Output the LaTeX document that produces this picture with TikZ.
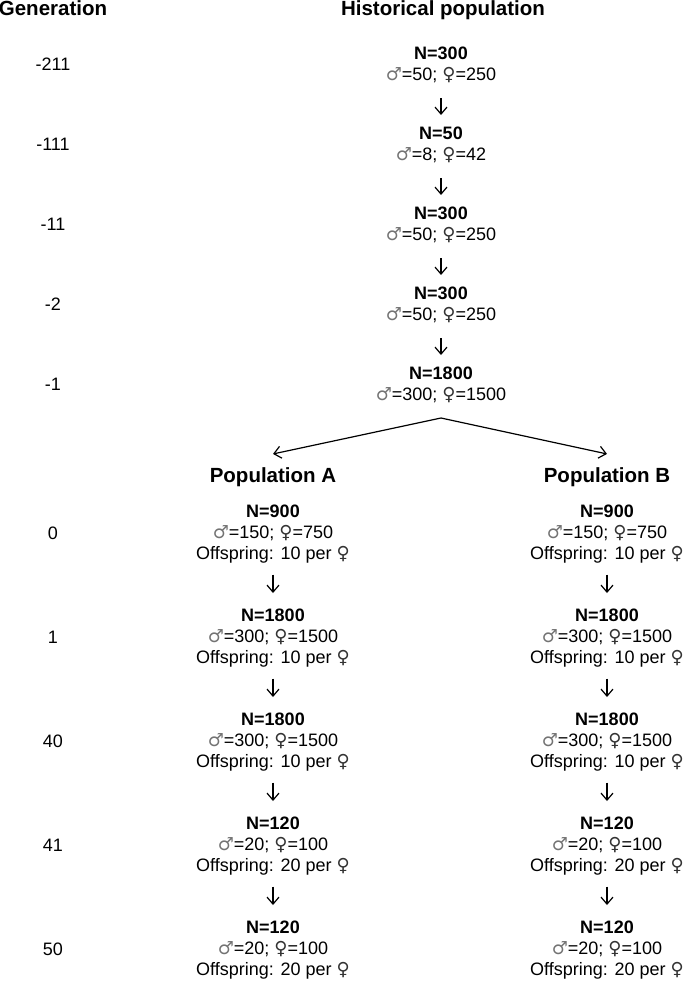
\documentclass[tikz,border=0pt]{standalone}
\usepackage{fontspec}
\setmainfont{Liberation Sans}
\newfontfamily\gpsymfont{DejaVu Sans}
\usetikzlibrary{arrows.meta}
\usetikzlibrary{calc}
\newcommand{\gpmale}{{\gpsymfont\color{black!55}\char"2642}}
\newcommand{\gpfemale}{{\gpsymfont\color{black!80}\char"2640}}
\tikzset{
  gpnode/.style={
    align=center, inner sep=0pt, anchor=north,
    font=\fontsize{18}{21}\selectfont},
  gphead/.style={
    anchor=base, inner sep=0pt, font=\fontsize{20.5}{24}\selectfont\bfseries},
  gpgen/.style={inner sep=0pt, font=\fontsize{18}{21}\selectfont},
  gparrow/.style={-{Straight Barb[length=7pt, width=12pt]}, line width=1.2pt},
  gpstep/.style={gparrow, shorten <=15pt, shorten >=12pt},
}

\begin{document}
\begin{tikzpicture}[x=1pt, y=-1pt]
\useasboundingbox (0, 0) rectangle (685, 983);

% Headers.
\node[gphead] (genhead) at (53, 15) {Generation};
\node[gphead] (histhead) at (443, 15) {Historical population};
\node[gphead] (popAhead) at (273, 482) {Population A};
\node[gphead] (popBhead) at (607, 482) {Population B};

% Generation column.
\foreach \g/\y [count=\k] in {%
    -211/64, -111/144, -11/224, -2/304, -1/384,
    0/533, 1/637, 40/741, 41/845, 50/949} {
  \node[gpgen] (gen\k) at (53, \y) {\g};
}

% Historical population, one node per generation.
\foreach \i/\y/\n/\m/\f in {%
    0/47/300/50/250,
    1/127/50/8/42,
    2/207/300/50/250,
    3/287/300/50/250,
    4/367/1800/300/1500} {
  \node[gpnode] (hist\i) at (441, \y)
    {\textbf{N=\n}\\\gpmale=\m; \gpfemale=\f};
}
\foreach \i in {0, 1, 2, 3} {
  \pgfmathtruncatemacro{\next}{\i + 1}
  \draw[gpstep] (hist\i) -- (hist\next);
}

% Split into the two populations.
\coordinate (split) at (441, 418);
\draw[gparrow] (split) -- ([yshift=13pt]popAhead.north);
\draw[gparrow] (split) -- ([yshift=13pt]popBhead.north);

% Populations A and B.
\foreach \p/\x in {A/273, B/607} {
  \foreach \i/\y/\n/\m/\f/\o in {%
      0/505/900/150/750/10,
      1/609/1800/300/1500/10,
      2/713/1800/300/1500/10,
      3/817/120/20/100/20,
      4/921/120/20/100/20} {
    \node[gpnode] (pop\p\i) at (\x, \y)
      {\textbf{N=\n}\\\gpmale=\m; \gpfemale=\f\\Offspring: \o{} per \gpfemale};
  }
  \foreach \i in {0, 1, 2, 3} {
    \pgfmathtruncatemacro{\next}{\i + 1}
    \draw[gpstep, shorten <=11pt, shorten >=16pt] (pop\p\i) -- (pop\p\next);
  }
}

\end{tikzpicture}
\end{document}
